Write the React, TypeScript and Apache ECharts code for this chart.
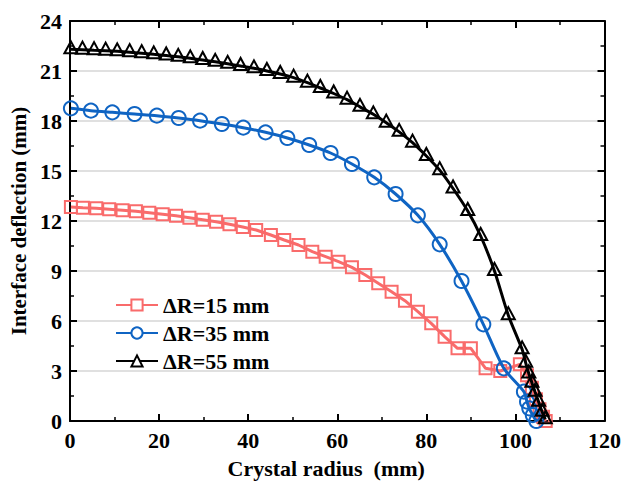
import React, { useEffect, useRef } from "react";
import * as echarts from "echarts";

const xTicks = [0, 20, 40, 60, 80, 100, 120];
const yTicks = [0, 3, 6, 9, 12, 15, 18, 21, 24];

const seriesNames = ["ΔR=15 mm", "ΔR=35 mm", "ΔR=55 mm"];

const r15X = [0.2, 2.9, 5.9, 8.8, 11.8, 14.8, 17.8, 20.8, 23.8, 26.8, 29.8, 32.8, 35.8, 38.8, 41.8, 45.1, 48.1, 51.3, 54.4, 57.4, 60.3, 63.3, 66.3, 69.2, 72.2, 75.2, 78.1, 81.1, 84.1, 87.0, 90.0, 93.3, 96.6, 101.0, 102.6, 103.7, 104.6, 105.4, 106.2, 106.8];
const r15Y = [12.84, 12.8, 12.76, 12.71, 12.65, 12.58, 12.5, 12.41, 12.31, 12.2, 12.08, 11.95, 11.8, 11.64, 11.46, 11.16, 10.86, 10.56, 10.16, 9.86, 9.56, 9.22, 8.76, 8.26, 7.76, 7.22, 6.56, 5.86, 5.06, 4.36, 4.36, 3.16, 3.0, 3.4, 2.75, 2.0, 1.3, 0.7, 0.25, 0.0];

const r35X = [0.2, 4.7, 9.5, 14.5, 19.5, 24.4, 29.2, 34.1, 38.9, 43.9, 48.8, 53.7, 58.5, 63.3, 68.3, 73.1, 78.1, 83.0, 87.9, 92.8, 97.4, 101.9, 102.6, 103.1, 103.9, 104.7];
const r35Y = [18.76, 18.62, 18.52, 18.42, 18.32, 18.18, 18.02, 17.82, 17.6, 17.32, 16.98, 16.56, 16.08, 15.42, 14.62, 13.62, 12.34, 10.6, 8.4, 5.8, 3.16, 1.76, 1.16, 0.76, 0.35, 0.0];

const r55X = [0.2, 2.8, 5.4, 8.0, 10.6, 13.4, 16.1, 18.8, 21.6, 24.3, 27.0, 29.8, 32.6, 35.4, 38.3, 41.3, 44.2, 47.2, 50.2, 53.3, 56.2, 59.2, 62.2, 65.1, 68.1, 71.0, 73.9, 76.9, 80.0, 83.0, 86.0, 89.3, 92.2, 95.3, 98.4, 101.5, 102.3, 103.0, 103.7, 104.4, 105.2, 106.0, 106.7];
const r55Y = [22.3, 22.28, 22.25, 22.22, 22.18, 22.13, 22.07, 22.0, 21.93, 21.85, 21.76, 21.66, 21.55, 21.43, 21.3, 21.16, 21.0, 20.82, 20.6, 20.3, 19.98, 19.65, 19.28, 18.85, 18.4, 17.9, 17.35, 16.7, 15.9, 15.05, 13.95, 12.6, 11.1, 9.0, 6.35, 4.3, 3.5, 2.85, 2.3, 1.75, 1.15, 0.55, 0.1];

const colors = ["#F96B6B", "#0F64C3", "#000000"];
const symbols = ["rect", "circle", "triangle"];

const FONT = "'Liberation Serif', 'Times New Roman', serif";

function zip(xs: number[], ys: number[]) {
  return xs.map((x, i) => [x, ys[i]]);
}

export default function App() {
  const ref = useRef<HTMLDivElement>(null);
  useEffect(() => {
    if (!ref.current) return;
    const chart = echarts.init(ref.current, undefined, { renderer: "svg" });
    const datas = [zip(r15X, r15Y), zip(r35X, r35Y), zip(r55X, r55Y)];
    const sizes: any[] = [[12, 12], [14, 14], [13, 12]];
    const offsets: any[] = [[0, 0], [0, 0], [0, -2]];
    const smooths = [false, 0.25, 0.25];
    const axisCommon = {
      axisLine: { show: true, onZero: false, lineStyle: { color: "#000", width: 2 } },
      axisTick: { show: true, inside: true, length: 7, lineStyle: { color: "#000", width: 2 } },
      minorTick: { show: true, splitNumber: 2, length: 4, lineStyle: { color: "#000", width: 1.5 } },
    };
    chart.setOption({
      animation: false,
      backgroundColor: "#fff",
      grid: { left: 69, top: 21, width: 539, height: 400, containLabel: false },
      legend: {
        left: 110,
        top: 289,
        orient: "vertical",
        itemGap: 6,
        itemWidth: 42,
        itemHeight: 14,
        textStyle: { fontFamily: FONT, fontWeight: "bold", fontSize: 22, color: "#000" },
        data: seriesNames.map((n) => ({ name: n, itemStyle: { color: "#fff" } })),
      },
      xAxis: [
        {
          type: "value",
          min: 0,
          max: 120,
          interval: 20,
          position: "bottom",
          ...axisCommon,
          splitLine: { show: false },
          axisLabel: { color: "#000", fontFamily: FONT, fontWeight: "bold", fontSize: 22, margin: 8 },
          name: "Crystal radius  (mm)",
          nameLocation: "middle",
          nameGap: 36,
          nameTextStyle: { color: "#000", fontFamily: FONT, fontWeight: "bold", fontSize: 22, padding: [0, 22, 0, 0] },
        },
        {
          type: "value",
          min: 0,
          max: 120,
          interval: 20,
          position: "top",
          ...axisCommon,
          splitLine: { show: false },
          axisLabel: { show: false },
        },
      ],
      yAxis: [
        {
          type: "value",
          min: 0,
          max: 24,
          interval: 3,
          position: "left",
          ...axisCommon,
          splitLine: { show: true, lineStyle: { color: "#d6d6d6", width: 1.5 } },
          axisLabel: { color: "#000", fontFamily: FONT, fontWeight: "bold", fontSize: 22, margin: 8 },
          name: "Interface deflection (mm)",
          nameLocation: "middle",
          nameGap: 41,
          nameRotate: 90,
          nameTextStyle: { color: "#000", fontFamily: FONT, fontWeight: "bold", fontSize: 21 },
        },
        {
          type: "value",
          min: 0,
          max: 24,
          interval: 3,
          position: "right",
          ...axisCommon,
          splitLine: { show: false },
          axisLabel: { show: false },
        },
      ],
      series: seriesNames.map((name, i) => ({
        name,
        type: "line",
        xAxisIndex: 0,
        yAxisIndex: 0,
        data: datas[i],
        smooth: smooths[i],
        symbol: symbols[i],
        symbolSize: sizes[i],
        symbolOffset: offsets[i],
        showAllSymbol: true,
        lineStyle: { color: colors[i], width: 3 },
        itemStyle: { color: "rgba(255,255,255,0)", borderColor: colors[i], borderWidth: 2 },
        z: 2 + i,
      })),
    });
    return () => chart.dispose();
  }, []);
  return (
    <div
      ref={ref}
      style={{ position: "fixed", left: 0, top: 0, width: 624, height: 486 }}
    />
  );
}
